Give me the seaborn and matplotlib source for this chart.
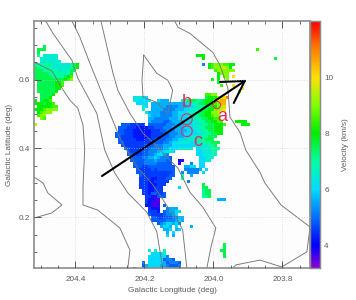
import numpy as np
import pandas as pd
import seaborn as sns
import matplotlib
matplotlib.use("Agg")
import matplotlib.pyplot as plt
from matplotlib.colors import LinearSegmentedColormap
from matplotlib.ticker import MultipleLocator, FixedLocator

LEVEL_CHARS = "abcdefghijklmnopq"
LEVEL_VALUES = [3.6, 4.2, 4.55, 4.85, 5.2, 5.6, 6.0, 6.5, 7.0, 7.5, 8.0, 8.5, 9.0, 9.5, 10.0, 10.5, 11.0]

LEFT_CLUMP = [
    (8,3,"j"),(9,1,"jjj"),(10,1,"j"),(11,1,"i"),(11,3,"hhhhh"),(12,2,"hhhhhh"),(13,2,"hhhhhhh"),
    (14,0,"iiiiiihhhhhhijk"),(15,0,"jiiiiihhhhhhijk"),(16,0,"jjjiiiiihhhijj"),(17,0,"jjjjjiiiiihij"),
    (18,0,"jjjjjjiiiijkl"),(19,0,"jjjjjjjjjjklm"),(20,1,"jjjjjjkkl"),(21,1,"jjjjjjkkl"),(22,1,"jjjjjjkk"),
    (23,1,"jjjjjjk"),(24,2,"jjjjk"),(25,2,"jjjk"),(26,0,"k"),(26,2,"jkkl"),(27,0,"kkkjkkl"),
    (28,1,"kkkkkll"),(29,0,"kkklmmmm"),(30,1,"klmmm"),(31,1,"lmm"),(32,2,"ml"),(34,0,"n"),
]
CENTRAL_CLUMP = [
    (24,57,"llmm"),(25,33,"ghhgg"),(25,57,"jkkkmno"),(25,64,"q"),
    (26,33,"hggggh"),(26,41,"gfff"),(26,49,"hijjjiijkkkmopp"),
    (27,34,"gggg"),(27,39,"fffffffffffghhiijjkkklmpp"),
    (28,36,"hg"),(28,39,"fffffeeeefffgghhiijjkkmnn"),
    (29,36,"h"),(29,39,"ffffeeeefffgghhiijjkkmmno"),
    (30,37,"h"),(30,38,"ffffeeeeffggghhiijjkkmmn"),
    (31,38,"gfffeeeeffggghhiijjkklmm"),(32,38,"ffeeeeefffgggghhiijjkkll"),
    (33,38,"feeeeddefffggghhhiijjkkll"),(34,29,"dddccccc"),(34,38,"ddddddeeefffggghhhiijjkkkl"),
    (35,28,"dddcccbbbb"),(35,38,"ccdddeeeffffggghhiijjjkkk"),
    (36,28,"ddcccbbbbbbcccddeeeffffggghhiijjkkk"),(37,27,"dddcccbbbbbbccccddeeeffggggghhiijjkk"),
    (38,27,"ddccccbbbbbbcccdddeefffgghhhhiijjj"),(39,28,"dcccccbbbcccddddeeffggghhhiiijjj"),
    (40,28,"ddcccccccccddddeefgghhhhgghhiiijjj"),(41,29,"dcccccccdddeeefffgggggggghhhhiij"),
    (42,30,"ddcccccddeeeeffggghhhhh"),(42,54,"gghhhiii"),
    (43,31,"dccccddeeefgghhg"),(43,54,"gghhhii"),(44,31,"dddccddeefggfe"),(44,54,"ggghhhh"),
    (45,32,"ddddeeffgfeeed"),(45,55,"gghhh"),(46,32,"dddddeeefeeedd"),(46,48,"ba"),(46,55,"gghh"),
    (47,33,"ddddeeeeddddd"),(47,48,"a"),(47,52,"e"),(47,55,"gg"),
    (48,33,"dddccddddddddd"),(48,50,"ffgg"),(48,55,"gg"),
    (49,34,"dccccdcdddddd"),(49,50,"eeeeef"),(49,57,"g"),
    (50,34,"ddccccccccccd"),(50,49,"e"),(50,51,"eeee"),(50,56,"g"),
    (51,35,"dcccccccccdd"),(51,49,"i"),(51,52,"f"),(52,35,"ccccbbcccdd"),(52,49,"i"),
    (53,35,"cccbbccccc"),(53,51,"e"),(54,35,"cccbbbccc"),(54,56,"j"),
    (55,35,"cccbbccc"),(55,48,"g"),(55,56,"jj"),(56,36,"ccbbccc"),(56,56,"ijj"),
    (57,36,"ccbddccd"),(57,56,"ijj"),(58,37,"ccbaddd"),(58,56,"iij"),
    (59,37,"cbbaa"),(59,61,"fff"),(60,37,"cbaaa"),(61,37,"bbaaa"),(61,43,"d"),
    (62,38,"cbbb"),(62,44,"efff"),(63,38,"cccb"),(63,43,"deffgg"),(64,38,"dcccc"),(64,43,"deefg"),
    (65,39,"ddccdddeeff"),(66,39,"dddddeeefgf"),(67,41,"defggfge"),(68,42,"fggf"),(68,47,"g"),(68,52,"f"),
    (69,43,"ffg"),(69,47,"fg"),(70,44,"f"),(70,46,"g"),(71,44,"g"),(71,46,"f"),
]
BOTTOM_CLUMP = [
    (76,38,"h"),(76,40,"h"),(76,43,"i"),(77,39,"ggggh"),(78,38,"gggggg"),(78,44,"e"),
    (79,38,"ggggg"),(79,43,"deed"),(80,36,"e"),(80,38,"gggggf"),(80,44,"deeed"),
    (81,36,"d"),(81,37,"fggggffe"),(81,45,"ddde"),(82,33,"d"),(82,36,"defgggffe"),(82,45,"dddd"),
]
UPPER_RIGHT_CLUMP = [
    (9,74,"l"),(11,54,"kkk"),(11,56,"k"),(12,56,"k"),(12,80,"j"),(14,56,"e"),(14,58,"klmmmllkk"),
    (15,58,"klmmnnmk"),(16,60,"lmmmmmm"),(17,61,"k"),(17,62,"mmm"),(18,61,"k"),(18,63,"mm"),(18,66,"o"),
    (19,59,"k"),(19,61,"k"),(19,64,"m"),(20,61,"j"),(21,62,"l"),(21,66,"o"),(23,68,"m"),(22,69,"o"),
    (33,67,"kkkk"),(34,69,"kkk"),(74,63,"j"),(75,63,"j"),(76,62,"jj"),(77,63,"j"),(78,63,"j"),
]

CONTOUR_1_LON = [204.520,204.468,204.439,204.416,204.393,204.378,204.373,204.378,204.378,204.335,204.271,204.242,204.248]
CONTOUR_1_LAT = [0.651,0.625,0.575,0.540,0.517,0.468,0.396,0.288,0.236,0.221,0.169,0.105,0.053]
CONTOUR_2_LON = [204.486,204.465,204.410,204.393,204.338,204.315,204.286,204.248,204.193,204.164,204.147]
CONTOUR_2_LAT = [0.770,0.734,0.656,0.604,0.502,0.395,0.329,0.271,0.215,0.158,0.053]
CONTOUR_3_LON = [204.410,204.387,204.358,204.338,204.300,204.271,204.251,204.219,204.175,204.132,204.106,204.089,204.077]
CONTOUR_3_LAT = [0.770,0.723,0.647,0.598,0.502,0.430,0.395,0.343,0.294,0.230,0.198,0.163,0.053]
CONTOUR_4_LON = [204.326,204.315,204.291,204.277,204.242,204.204,204.175,204.135,204.103,204.068,204.031,203.993,204.007,204.019]
CONTOUR_4_LAT = [0.770,0.723,0.618,0.569,0.502,0.444,0.418,0.375,0.343,0.273,0.230,0.169,0.114,0.053]
CONTOUR_5_LON = [204.112,204.103,204.068,204.002,203.981,203.958,203.952,203.923,203.906,203.865,203.851,203.804,203.720,203.729,203.802,203.865,203.935,203.944]
CONTOUR_5_LAT = [0.770,0.752,0.734,0.679,0.642,0.575,0.491,0.447,0.395,0.331,0.300,0.236,0.172,0.100,0.056,0.076,0.062,0.053]
CONTOUR_6_LON = [204.202,204.164,204.132,204.118,204.132,204.164,204.204,204.207,204.202]
CONTOUR_6_LAT = [0.671,0.618,0.598,0.569,0.502,0.534,0.549,0.598,0.671]
CONTOUR_7_LON = [204.520,204.494,204.480,204.439,204.468,204.520]
CONTOUR_7_LAT = [0.317,0.300,0.271,0.236,0.213,0.198]

ARROW_LON = [204.323, 203.909]
ARROW_LAT = [0.320, 0.596]
ARROW_HEAD_LON = [203.981, 203.909, 203.941]
ARROW_HEAD_LAT = [0.593, 0.596, 0.532]

CIRCLE_LON = [204.077, 204.077, 203.990]
CIRCLE_LAT = [0.485, 0.450, 0.526]
CIRCLE_AREA = [60, 60, 28]
LETTERS = ["b", "a", "c"]
LETTER_LON = [204.077, 203.975, 204.045]
LETTER_LAT = [0.532, 0.494, 0.421]

V_MIN, V_MAX = 3.18, 12.0
CBAR_TICKS = [4, 6, 8, 10]
CMAP_VALUES = [3.18, 4.0, 5.0, 6.0, 7.0, 8.0, 9.0, 10.0, 11.0, 12.0]
CMAP_COLORS = ["#8a00d8", "#0000ff", "#0070ff", "#00dcff", "#00ffa0", "#00ee00", "#80ff00", "#ffe000", "#ff8000", "#ff0000"]

XLABEL = "Galactic Longitude (deg)"
YLABEL = "Galactic Latitude (deg)"
CBAR_LABEL = "Velocity (km/s)"

N_ROWS, N_COLS = 83, 92
lookup = dict(zip(LEVEL_CHARS, LEVEL_VALUES))
grid = np.full((N_ROWS, N_COLS), np.nan)
for clump in (LEFT_CLUMP, CENTRAL_CLUMP, BOTTOM_CLUMP, UPPER_RIGHT_CLUMP):
    for row, col, text in clump:
        for k, ch in enumerate(text):
            grid[row, col + k] = lookup[ch]

sns.set_theme(style="white", rc={"font.family": ["Liberation Sans", "DejaVu Sans"]})
W, H = 356, 300
fig = plt.figure(figsize=(W / 100, H / 100), dpi=100, facecolor="white")
L, T, R, B = 34, 21, 310, 268
rect = [L / W, 1 - B / H, (R - L) / W, (B - T) / H]
ax = fig.add_axes(rect)
cax = fig.add_axes([R / W, 1 - B / H, 10 / W, (B - T) / H])
ov = fig.add_axes(rect, facecolor="none", zorder=3)

pos = [(v - V_MIN) / (V_MAX - V_MIN) for v in CMAP_VALUES]
cmap = LinearSegmentedColormap.from_list("vel", list(zip(pos, CMAP_COLORS)), N=256)
sns.heatmap(grid, ax=ax, cbar_ax=cax, cmap=cmap, vmin=V_MIN, vmax=V_MAX,
            xticklabels=False, yticklabels=False, rasterized=True)
ax.set_xlim(0, N_COLS)
ax.set_ylim((B - T) / 3, 0)
ax.set_facecolor("#fdfdfd")
for s in ax.spines.values():
    s.set_visible(False)

TXT = "#5a5a5a"
FS = 5.9
RED = "#e62a5c"

ov.set_xlim(204.52, 203.72)
ov.set_ylim(0.053, 0.77)
ov.grid(True, which="major", color="#c8c8c8", lw=0.5, ls=(0, (1, 2.5)))
ov.set_axisbelow(False)

contours = [(CONTOUR_1_LON, CONTOUR_1_LAT), (CONTOUR_2_LON, CONTOUR_2_LAT), (CONTOUR_3_LON, CONTOUR_3_LAT),
            (CONTOUR_4_LON, CONTOUR_4_LAT), (CONTOUR_5_LON, CONTOUR_5_LAT), (CONTOUR_6_LON, CONTOUR_6_LAT),
            (CONTOUR_7_LON, CONTOUR_7_LAT)]
for lon, lat in contours:
    sns.lineplot(x=lon, y=lat, ax=ov, sort=False, estimator=None, color="#757575", lw=0.65, legend=False)

sns.lineplot(x=ARROW_LON, y=ARROW_LAT, ax=ov, sort=False, estimator=None, color="black", lw=1.5, legend=False)
sns.lineplot(x=ARROW_HEAD_LON, y=ARROW_HEAD_LAT, ax=ov, sort=False, estimator=None, color="black", lw=1.5, legend=False)

sns.scatterplot(x=CIRCLE_LON, y=CIRCLE_LAT, ax=ov, s=CIRCLE_AREA, facecolor="none", edgecolor=RED, linewidth=0.8, legend=False)
for t, x, y in zip(LETTERS, LETTER_LON, LETTER_LAT):
    ov.text(x, y, t, color=RED, fontsize=13, ha="center", va="center", family="Liberation Sans")

ov.set_xlim(204.52, 203.72)
ov.set_ylim(0.053, 0.77)
ov.set_xticks([204.4, 204.2, 204.0, 203.8])
ov.set_xticklabels(["204.4", "204.2", "204.0", "203.8"])
ov.set_yticks([0.2, 0.4, 0.6])
ov.set_yticklabels(["0.2", "0.4", "0.6"])
ov.xaxis.set_minor_locator(MultipleLocator(0.05))
ov.yaxis.set_minor_locator(MultipleLocator(0.05))
ov.tick_params(axis="x", which="major", pad=6)
ov.tick_params(axis="y", which="major", pad=3)
ov.tick_params(which="major", direction="in", length=5, width=0.7, color="#555555", top=True, right=False,
               bottom=True, left=True, labelsize=FS, labelcolor=TXT)
ov.tick_params(which="minor", direction="in", length=2.5, width=0.6, color="#555555", top=True, bottom=True, left=True)
for s in ov.spines.values():
    s.set_visible(True)
    s.set_color("#8c8c8c")
    s.set_linewidth(1.2)
ov.set_xlabel(XLABEL, fontsize=FS, color=TXT, labelpad=3)
ov.set_ylabel(YLABEL, fontsize=FS, color=TXT, labelpad=4)

cax.yaxis.set_major_locator(FixedLocator(CBAR_TICKS))
cax.yaxis.set_minor_locator(MultipleLocator(0.5))
cax.tick_params(which="major", direction="in", right=True, length=5, width=0.6, color="#555555",
                labelsize=FS, labelcolor=TXT, pad=3)
cax.tick_params(which="minor", direction="in", right=True, length=2.5, width=0.6, color="#555555")
cax.set_ylabel(CBAR_LABEL, fontsize=FS, color=TXT, labelpad=6)
for s in cax.spines.values():
    s.set_visible(True)
    s.set_color("#8c8c8c")
    s.set_linewidth(0.9)

fig.savefig("out.png", dpi=100)
